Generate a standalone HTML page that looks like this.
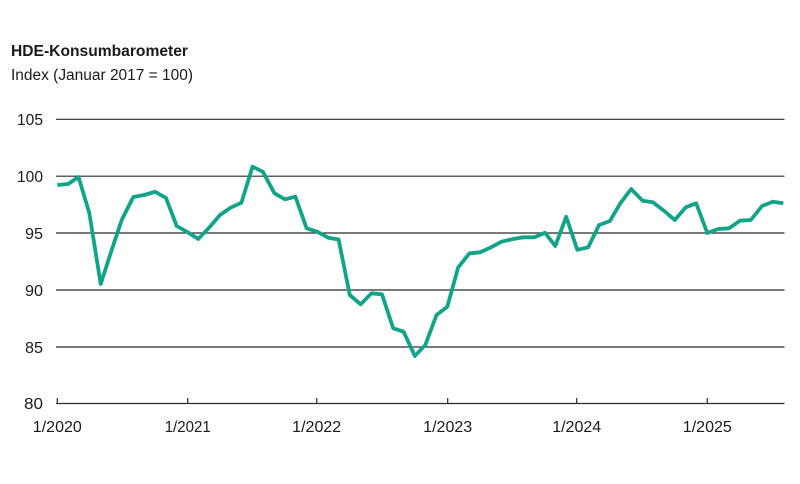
<!DOCTYPE html>
<html>
<head>
<meta charset="utf-8">
<style>
  html,body{margin:0;padding:0;background:#fff;}
  svg{display:block;}
  text{font-family:"Liberation Sans",sans-serif;fill:#1a1a1a;}
</style>
</head>
<body>
<svg width="800" height="484" viewBox="0 0 800 484" xmlns="http://www.w3.org/2000/svg">
  <rect width="800" height="484" fill="#fff"/>
  <text x="11" y="56" font-size="15.5" font-weight="bold" textLength="177" lengthAdjust="spacingAndGlyphs">HDE-Konsumbarometer</text>
  <text x="11" y="80" font-size="15.5" textLength="182" lengthAdjust="spacingAndGlyphs">Index (Januar 2017 = 100)</text>

  <g stroke="#2b2b2b" stroke-width="1.2">
    <line x1="56" y1="119.3" x2="784.5" y2="119.3"/>
    <line x1="56" y1="176.2" x2="784.5" y2="176.2"/>
    <line x1="56" y1="233" x2="784.5" y2="233"/>
    <line x1="56" y1="290" x2="784.5" y2="290"/>
    <line x1="56" y1="347" x2="784.5" y2="347"/>
    <line x1="56" y1="403.5" x2="784.5" y2="403.5"/>
    <line x1="57.3" y1="398" x2="57.3" y2="404"/>
    <line x1="187.7" y1="398" x2="187.7" y2="404"/>
    <line x1="316.7" y1="398" x2="316.7" y2="404"/>
    <line x1="447.7" y1="398" x2="447.7" y2="404"/>
    <line x1="576.7" y1="398" x2="576.7" y2="404"/>
    <line x1="707.3" y1="398" x2="707.3" y2="404"/>
  </g>

  <g font-size="16" text-anchor="end">
    <text x="43" y="125" textLength="26" lengthAdjust="spacingAndGlyphs">105</text>
    <text x="43" y="182" textLength="26" lengthAdjust="spacingAndGlyphs">100</text>
    <text x="43" y="239" textLength="18" lengthAdjust="spacingAndGlyphs">95</text>
    <text x="43" y="296" textLength="18" lengthAdjust="spacingAndGlyphs">90</text>
    <text x="43" y="353" textLength="18" lengthAdjust="spacingAndGlyphs">85</text>
    <text x="43" y="409" textLength="19" lengthAdjust="spacingAndGlyphs">80</text>
  </g>
  <g font-size="16" text-anchor="middle">
    <text x="57.3" y="432" textLength="49" lengthAdjust="spacingAndGlyphs">1/2020</text>
    <text x="187.7" y="432" textLength="46" lengthAdjust="spacingAndGlyphs">1/2021</text>
    <text x="316.7" y="432" textLength="49" lengthAdjust="spacingAndGlyphs">1/2022</text>
    <text x="447.7" y="432" textLength="49" lengthAdjust="spacingAndGlyphs">1/2023</text>
    <text x="576.7" y="432" textLength="49" lengthAdjust="spacingAndGlyphs">1/2024</text>
    <text x="707.3" y="432" textLength="49" lengthAdjust="spacingAndGlyphs">1/2025</text>
  </g>

  <polyline fill="none" stroke="#13a389" stroke-width="3.8" stroke-linejoin="round" stroke-linecap="butt"
    points="57.3,185 68.1,184 78.5,177 89.3,213 100.7,284 111.7,250 121.7,220 133.3,197 144.3,195 155,191.7 166,198 176.7,226 187.3,232 198.3,239 210,226.7 220,215 230.6,207.7 241.4,202.7 252.5,166.7 262.8,171.7 274.5,193.3 285,199.3 295.4,196.7 306.6,228.3 317.2,231.7 328.2,237.7 338.6,239.5 349.8,295 360.6,304.3 371.5,293.3 382,294.3 393.2,328.3 403.6,331.7 414.8,356 425.3,345 436.5,315 447.3,306.7 458.2,267.3 469.5,253.3 480,252.3 490.3,247.7 501.5,241.7 512,239.3 523.2,237.3 534.5,237.3 545,232.7 555.3,246 566.2,216.7 577.3,249.8 588.2,247.3 599.1,225 609.9,221 620.3,203.3 631.2,189 642.5,200.7 652.9,202.3 663.9,210.7 674.8,220 685.8,207.3 696.2,203.3 707.3,233 718.2,229 729.1,228.3 739.9,220.7 750.8,220 762,206 773,201.7 783.3,203.3"/>
</svg>
</body>
</html>
